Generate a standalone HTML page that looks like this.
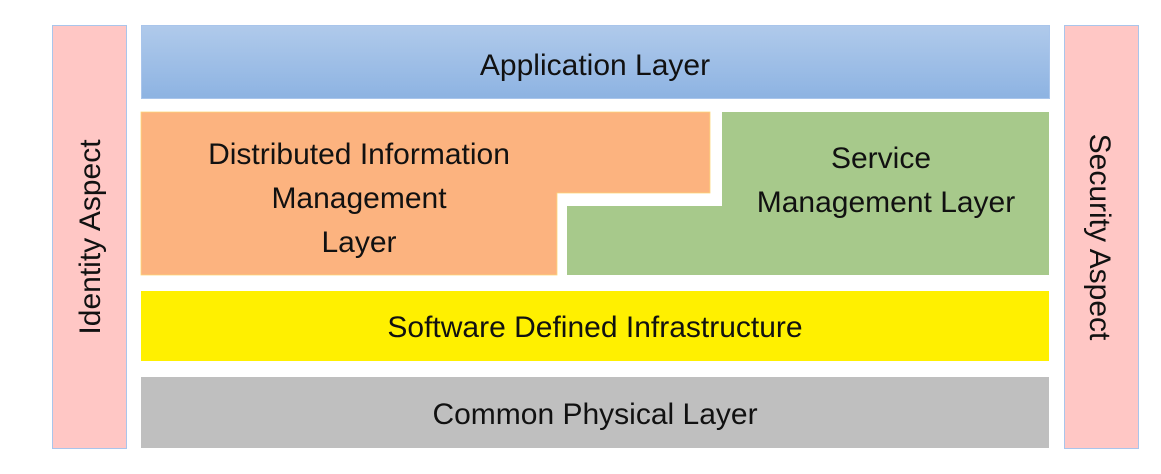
<!DOCTYPE html>
<html><head><meta charset="utf-8"><style>
html,body{margin:0;padding:0;background:#fff;width:1161px;height:474px;overflow:hidden}
text{font-family:"Liberation Sans",Arial,sans-serif;font-size:30px;fill:#111}
</style></head><body>
<svg width="1161" height="474" xmlns="http://www.w3.org/2000/svg">
<defs><linearGradient id="b" x1="0" y1="0" x2="0" y2="1"><stop offset="0" stop-color="#b0caeb"/><stop offset="1" stop-color="#8db3e2"/></linearGradient></defs>
<rect x="52.5" y="25.5" width="74" height="423" fill="#ffc7c5" stroke="#a9c5eb" stroke-width="1"/>
<rect x="1064.5" y="25.5" width="74" height="423" fill="#ffc7c5" stroke="#a9c5eb" stroke-width="1"/>
<rect x="141.5" y="25.5" width="908" height="73" fill="url(#b)" stroke="#a9c5eb" stroke-width="1"/>
<polygon points="141,112 710,112 710,193 557,193 557,275 141,275" fill="#fcb37f" stroke="#fdd77a" stroke-width="0.8"/>
<polygon points="722,112 1049,112 1049,275 567,275 567,206 722,206" fill="#a7c98b"/>
<rect x="141" y="291" width="908" height="70" fill="#fff000"/>
<rect x="141" y="377" width="908" height="71" fill="#bfbfbf"/>
<text x="595" y="75" text-anchor="middle">Application Layer</text>
<text x="359" y="164" text-anchor="middle">Distributed Information</text>
<text x="359" y="208" text-anchor="middle">Management</text>
<text x="359" y="252" text-anchor="middle">Layer</text>
<text x="881" y="168" text-anchor="middle">Service</text>
<text x="886" y="212" text-anchor="middle">Management Layer</text>
<text x="595" y="337" text-anchor="middle">Software Defined Infrastructure</text>
<text x="595" y="424" text-anchor="middle">Common Physical Layer</text>
<text transform="translate(100,237) rotate(-90)" text-anchor="middle">Identity Aspect</text>
<text transform="translate(1090,237) rotate(90)" text-anchor="middle">Security Aspect</text>
</svg>
</body></html>
